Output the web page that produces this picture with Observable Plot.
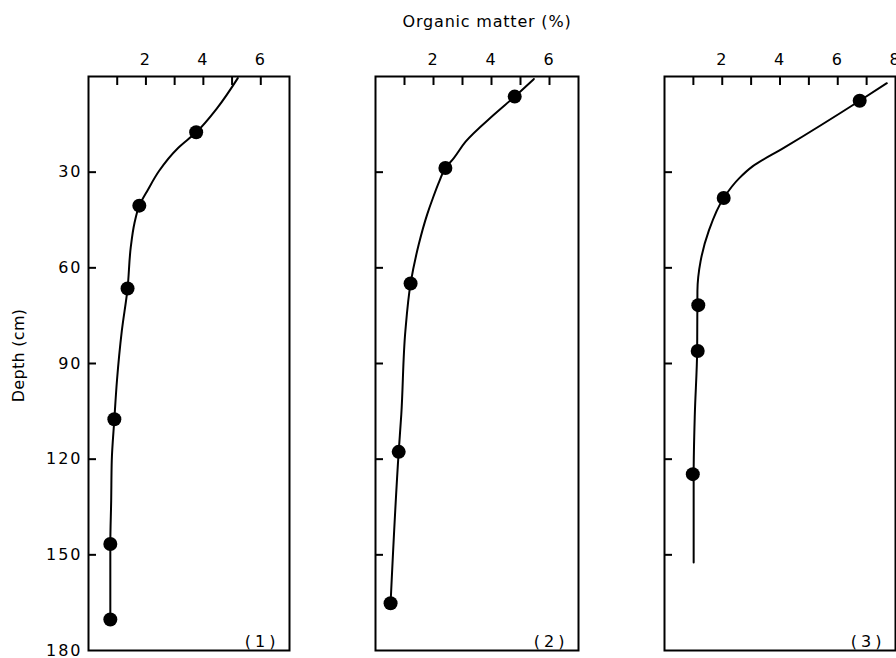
<!DOCTYPE html>
<html>
<head>
<meta charset="utf-8">
<script src="https://cdn.jsdelivr.net/npm/d3@7"></script>
<script src="https://cdn.jsdelivr.net/npm/@observablehq/plot@0.6"></script>
<style>
  html, body { margin: 0; padding: 0; background: white; }
  #wrap { position: relative; width: 896px; height: 658px; overflow: hidden; background: white; }
  #wrap > svg { position: absolute; top: 0; }
</style>
</head>
<body>
<div id="wrap"></div>
<script>
// ---- data ----
const panelLabels = ["(1)", "(2)", "(3)"];
const titleText = "Organic matter (%)";
const yTitle = "Depth (cm)";

// measured points: depth (cm) and organic matter (%)
const p1Depth = [17.5, 40.5, 66.5, 107.5, 146.6, 170.3];
const p1OM    = [3.75, 1.77, 1.36, 0.9, 0.76, 0.76];
const p2Depth = [6.3, 28.7, 64.9, 117.7, 165.2];
const p2OM    = [4.8, 2.41, 1.21, 0.8, 0.52];
const p3Depth = [7.6, 38.1, 71.7, 86.1, 124.7];
const p3OM    = [6.76, 2.05, 1.17, 1.15, 0.98];

// fitted curves
const c1Depth = [0.5, 9.9, 17.5, 22.4, 29.7, 35.5, 40.5, 46, 53.7, 66.5, 79.8, 95.5, 107.5, 120.5, 133, 146.6, 170.3];
const c1OM    = [5.2, 4.48, 3.75, 3.12, 2.45, 2.07, 1.77, 1.6, 1.47, 1.36, 1.16, 0.99, 0.9, 0.81, 0.79, 0.76, 0.76];
const c2Depth = [0.8, 6.3, 12, 20.5, 25.6, 28.7, 32.9, 38.1, 43.3, 52.7, 64.9, 79.8, 105.9, 117.7, 165.2];
const c2OM    = [5.46, 4.8, 4.08, 3.1, 2.7, 2.41, 2.2, 1.98, 1.78, 1.49, 1.21, 1.03, 0.89, 0.8, 0.52];
const c3Depth = [2.1, 7.6, 22.4, 28.2, 31.8, 38.1, 48.5, 57.9, 67.3, 86.1, 105.9, 124.7, 152.4];
const c3OM    = [7.7, 6.76, 4.13, 3.05, 2.6, 2.05, 1.53, 1.25, 1.14, 1.13, 1.05, 1.01, 1.01];

// axes
const xTicksA = [1, 2, 3, 4, 5, 6];
const xLabelsA = [2, 4, 6];
const xTicksB = [1, 2, 3, 4, 5, 6, 7];
const xLabelsB = [2, 4, 6, 8];
const yTicks = [30, 60, 90, 120, 150];
const yLabels = [30, 60, 90, 120, 150, 180];
const xMaxA = 7, xMaxB = 8, yMax = 180;

const zip = (d, o) => d.map((v, i) => ({depth: v, om: o[i]}));
const fmt = d => String(d);

const H = 658, MT = 76, MB = 8;
const TICK = 9;

function panel(cfg) {
  const frameW = cfg.width - cfg.marginLeft - cfg.marginRight;
  const frameH = H - MT - MB;
  const marks = [
    // inward tick marks along the top and left edges of each frame
    Plot.tickX(cfg.xTicks, {x: d => d, insetBottom: frameH - TICK, stroke: "black", strokeWidth: 2}),
    Plot.tickY(yTicks, {y: d => d, insetRight: frameW - TICK + 1, stroke: "black", strokeWidth: 2}),
    Plot.axisX({anchor: "top", ticks: cfg.xLabels, tickSize: 0, tickPadding: 12, tickFormat: fmt, label: null}),
  ];
  if (cfg.first) {
    marks.push(Plot.axisY({anchor: "left", ticks: yLabels, tickSize: 0, tickPadding: 6, tickFormat: fmt, label: null}));
    marks.push(Plot.text([yTitle], {frameAnchor: "left", dx: -70, dy: -8, rotate: -90, textAnchor: "middle", lineAnchor: "middle", fontSize: 16}));
  } else {
    marks.push(Plot.axisY({anchor: "left", ticks: [], label: null}));
  }
  if (cfg.title) {
    marks.push(Plot.text([cfg.title], {frameAnchor: "top", dx: 10, dy: -55, textAnchor: "middle", lineAnchor: "middle", fontSize: 16}));
  }
  marks.push(
    Plot.frame({stroke: "black", strokeWidth: 2}),
    Plot.line(zip(cfg.cDepth, cfg.cOM), {x: "om", y: "depth", curve: "monotone-y", stroke: "black", strokeWidth: 2}),
    Plot.dot(zip(cfg.pDepth, cfg.pOM), {x: "om", y: "depth", r: 7, fill: "black", stroke: "none"}),
    Plot.text([cfg.label], {frameAnchor: "bottom-right", dx: -10, dy: -9, textAnchor: "end", lineAnchor: "middle", fontSize: 16})
  );
  const svg = Plot.plot({
    width: cfg.width,
    height: H,
    marginLeft: cfg.marginLeft,
    marginRight: cfg.marginRight,
    marginTop: MT,
    marginBottom: MB,
    x: {domain: [0, cfg.xMax]},
    y: {domain: [0, yMax], reverse: true},
    style: {fontFamily: "DejaVu Sans", fontSize: "16px", color: "black", background: "white", letterSpacing: "2px", overflow: "visible"},
    marks
  });
  svg.style.left = cfg.left + "px";
  d3.select(svg).selectAll("text").filter(function() { return /^\(\d\)$/.test(this.textContent); })
    .style("letter-spacing", "4px");
  d3.select(svg).selectAll("text").filter(function() { return this.textContent === titleText; })
    .style("letter-spacing", "0.8px");
  d3.select(svg).selectAll("text").filter(function() { return this.textContent === yTitle; })
    .style("letter-spacing", "0.3px");
  return svg;
}

const wrap = document.getElementById("wrap");
wrap.append(panel({left: 0, width: 300, marginLeft: 88, marginRight: 11, xMax: xMaxA, xTicks: xTicksA, xLabels: xLabelsA,
  pDepth: p1Depth, pOM: p1OM, cDepth: c1Depth, cOM: c1OM, label: panelLabels[0], first: true}));
wrap.append(panel({left: 300, width: 290, marginLeft: 75, marginRight: 12, xMax: xMaxA, xTicks: xTicksA, xLabels: xLabelsA,
  pDepth: p2Depth, pOM: p2OM, cDepth: c2Depth, cOM: c2OM, label: panelLabels[1], title: titleText}));
wrap.append(panel({left: 590, width: 306, marginLeft: 74, marginRight: 1, xMax: xMaxB, xTicks: xTicksB, xLabels: xLabelsB,
  pDepth: p3Depth, pOM: p3OM, cDepth: c3Depth, cOM: c3OM, label: panelLabels[2]}));
</script>
</body>
</html>
